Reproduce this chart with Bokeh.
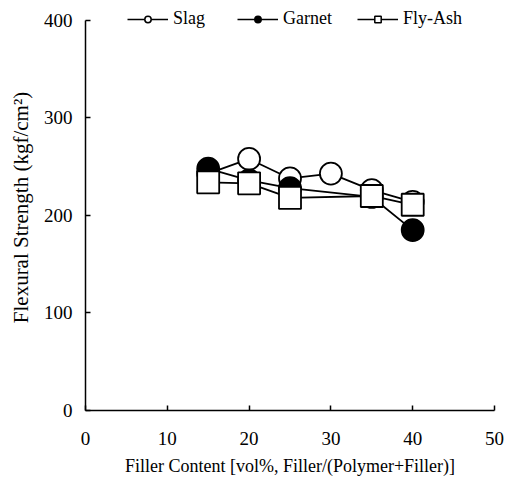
from bokeh.plotting import figure
from bokeh.models import Legend, LegendItem, ColumnDataSource, FixedTicker
from bokeh.embed import file_html
from bokeh.resources import INLINE

# Data
slag_x = [15, 20, 25, 30, 35, 40]
slag_y = [243, 258, 238, 243, 226, 214]
garnet_x = [15, 20, 25, 35, 40]
garnet_y = [248, 236, 228, 219, 185]
flyash_x = [15, 20, 25, 35, 40]
flyash_y = [234, 233, 218, 220, 211]
x_ticks = [0, 10, 20, 30, 40, 50]
y_ticks = [0, 100, 200, 300, 400]

FONT = "Liberation Serif"

p = figure(frame_width=409, frame_height=406, x_range=(0, 50), y_range=(0, 416.4),
           min_border_left=85, min_border_top=4, min_border_right=12, min_border_bottom=60,
           output_backend="svg", toolbar_location=None, tools="")
p.outline_line_color = None
p.grid.visible = False
p.background_fill_color = "white"

for ax in (p.xaxis[0], p.yaxis[0]):
    ax.axis_line_width = 1.5
    ax.axis_line_color = "black"
    ax.major_tick_in = 5
    ax.major_tick_out = 0
    ax.major_tick_line_width = 1.5
    ax.minor_tick_line_color = None
    ax.major_label_text_font = FONT
    ax.major_label_text_font_size = "19px"
    ax.major_label_text_color = "black"
    ax.axis_label_text_font = FONT
    ax.axis_label_text_font_style = "normal"
    ax.axis_label_text_color = "black"

p.xaxis.ticker = FixedTicker(ticks=x_ticks)
p.yaxis.ticker = FixedTicker(ticks=y_ticks)
p.xaxis.bounds = (0, 50)
p.yaxis.bounds = (0, 400)
p.xaxis.axis_label = "Filler Content [vol%, Filler/(Polymer+Filler)]"
p.yaxis.axis_label = "Flexural Strength (kgf/cm²)"
p.xaxis.axis_label_text_font_size = "18px"
p.yaxis.axis_label_text_font_size = "21px"
p.xaxis.major_label_standoff = 21
p.xaxis.axis_label_standoff = 8
p.yaxis.major_label_standoff = 13
p.yaxis.axis_label_standoff = 8

LW = 1.8
# Series (slag bottom, garnet middle, fly-ash top)
p.line(slag_x, slag_y, line_color="black", line_width=LW)
p.scatter(slag_x, slag_y, marker="circle", size=22, fill_color="white", line_color="black", line_width=LW)
p.line(garnet_x, garnet_y, line_color="black", line_width=LW)
p.scatter(garnet_x, garnet_y, marker="circle", size=22, fill_color="black", line_color="black", line_width=LW)
p.line(flyash_x, flyash_y, line_color="black", line_width=LW)
p.scatter(flyash_x, flyash_y, marker="square", size=22, fill_color="white", line_color="black", line_width=LW)

# Legend proxies (NaN sources so nothing is drawn in the plot, smaller markers)
nan = float("nan")
names = ["Slag", "Garnet", "Fly-Ash"]
markers = ["circle", "circle", "square"]
fills = ["white", "black", "white"]
xs = [42, 152, 272]
for name, mk, fc, lx in zip(names, markers, fills, xs):
    src = ColumnDataSource(data=dict(x=[nan], y=[nan]))
    r1 = p.line("x", "y", source=src, line_color="black", line_width=1.5)
    r2 = p.scatter("x", "y", source=src, marker=mk, size=12, fill_color=fc, line_color="black", line_width=1.5)
    leg = Legend(items=[LegendItem(label=name, renderers=[r1, r2])], location=(lx, 381),
                 padding=0, margin=0, border_line_color=None, background_fill_alpha=0,
                 glyph_width=41, glyph_height=16, label_height=16, label_standoff=5,
                 label_text_font=FONT, label_text_font_size="18px", label_text_color="black")
    p.add_layout(leg)

open("out.html", "w").write(file_html(p, INLINE))
